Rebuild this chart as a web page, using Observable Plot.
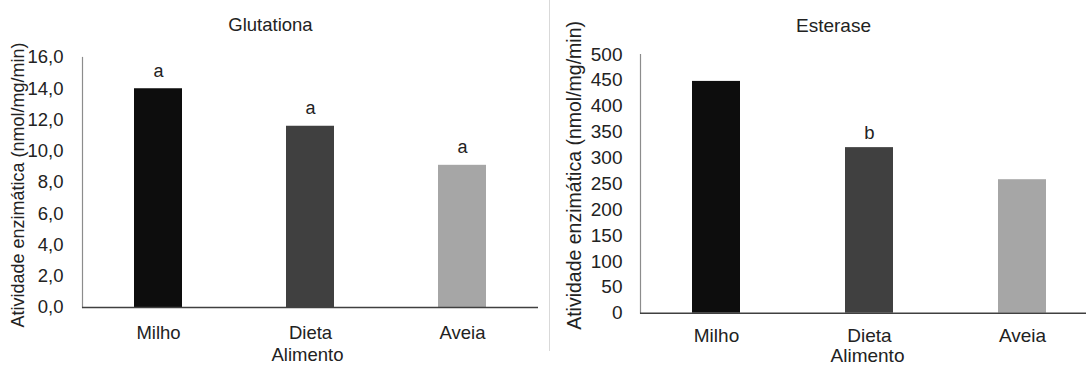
<!DOCTYPE html>
<html><head><meta charset="utf-8">
<script src="https://cdn.jsdelivr.net/npm/d3@7"></script>
<script src="https://cdn.jsdelivr.net/npm/@observablehq/plot@0.6"></script>
<style>
body{margin:0;background:#fff;}
#wrap{position:relative;width:1086px;height:365px;overflow:hidden;background:#fff;font-family:"Liberation Sans",Arial,sans-serif;}
#left{position:absolute;left:0;top:0;width:549px;height:365px;}
#right{position:absolute;left:549px;top:0;width:550px;height:365px;}
#divider{position:absolute;left:549px;top:0;width:1px;height:351px;background:#d9d9d9;}
svg{background:transparent !important;max-width:none !important;}
</style></head><body>
<div id="wrap"><div id="left"></div><div id="right"></div><div id="divider"></div></div>
<script>
// ---- data ----
const categories = ["Milho", "Dieta", "Aveia"];
const glutationa = [14.0, 11.6, 9.1];
const esterase = [448, 320, 258];
const glutationaLetters = ["a", "a", "a"];
const esteraseLetters = ["", "b", ""];
const glutationaTicks = [0, 2, 4, 6, 8, 10, 12, 14, 16];
const esteraseTicks = [0, 50, 100, 150, 200, 250, 300, 350, 400, 450, 500];
const barColors = ["#0d0d0d", "#404040", "#a6a6a6"];
const yLabel = "Atividade enzimática (nmol/mg/min)";
const xLabel = "Alimento";

function panel(cfg) {
  const data = categories.map((c, i) => ({cat: c, value: cfg.values[i], letter: cfg.letters[i]}));
  const fs = cfg.fontSize;
  const ink = "#222";
  return Plot.plot({
    width: cfg.width,
    height: 365,
    marginLeft: cfg.marginLeft,
    marginRight: cfg.marginRight,
    marginTop: cfg.marginTop,
    marginBottom: cfg.marginBottom,
    style: {fontFamily: '"Liberation Sans", Arial, sans-serif', color: ink, background: "transparent", maxWidth: "none"},
    x: {domain: categories, paddingInner: 0.684, paddingOuter: 0.342, axis: null, label: null},
    y: {domain: cfg.domain, axis: null, label: null},
    color: {domain: categories, range: barColors},
    marks: [
      Plot.barY(data, {x: "cat", y: "value", fill: "cat"}),
      Plot.frame({anchor: "left", stroke: "#8c8c8c", strokeWidth: 1.2}),
      Plot.ruleY([0], {stroke: "#404040", strokeWidth: 1.6}),
      Plot.axisY({ticks: cfg.ticks, tickSize: 0, tickPadding: cfg.tickPadY, tickFormat: cfg.fmt, fontSize: fs, label: null}),
      Plot.axisX({tickSize: 0, tickPadding: cfg.tickPadX, fontSize: fs, label: null}),
      Plot.text(data, {x: "cat", y: "value", text: "letter", lineAnchor: "bottom", dy: cfg.letterDy, fontSize: fs - 0.5, fill: ink}),
      Plot.text([cfg.title], {text: d => d, frameAnchor: "top", textAnchor: "middle", lineAnchor: "middle", dx: cfg.titleDx, dy: cfg.titleDy, fontSize: fs, fill: ink}),
      Plot.text([yLabel], {text: d => d, frameAnchor: "left", textAnchor: "middle", lineAnchor: "middle", rotate: -90, dx: cfg.yLabDx, dy: cfg.yLabDy, fontSize: cfg.yLabSize, fill: ink}),
      Plot.text([xLabel], {text: d => d, frameAnchor: "bottom", textAnchor: "middle", lineAnchor: "middle", dx: cfg.xLabDx, dy: cfg.xLabDy, fontSize: fs, fill: ink})
    ]
  });
}

document.getElementById("left").append(panel({
  width: 549, marginLeft: 82, marginRight: 11, marginTop: 57, marginBottom: 58,
  values: glutationa, letters: glutationaLetters, ticks: glutationaTicks, domain: [0, 16],
  fmt: d => d.toFixed(1).replace(".", ","), fontSize: 18.5, tickPadY: 19, tickPadX: 18,
  letterDy: -12, title: "Glutationa", titleDx: -40, titleDy: -32,
  yLabDx: -64.6, yLabDy: 2.5, yLabSize: 18, xLabDx: -3, xLabDy: 47.5
}));

document.getElementById("right").append(panel({
  width: 550, marginLeft: 91, marginRight: 0, marginTop: 54, marginBottom: 52.3,
  values: esterase, letters: esteraseLetters, ticks: esteraseTicks, domain: [0, 500],
  fmt: d => String(d), fontSize: 19, tickPadY: 18, tickPadX: 15.5,
  letterDy: -9, title: "Esterase", titleDx: -36.5, titleDy: -29,
  yLabDx: -66, yLabDy: -8.4, yLabSize: 19.5, xLabDx: -2.5, xLabDy: 42.3
}));
</script>
</body></html>
